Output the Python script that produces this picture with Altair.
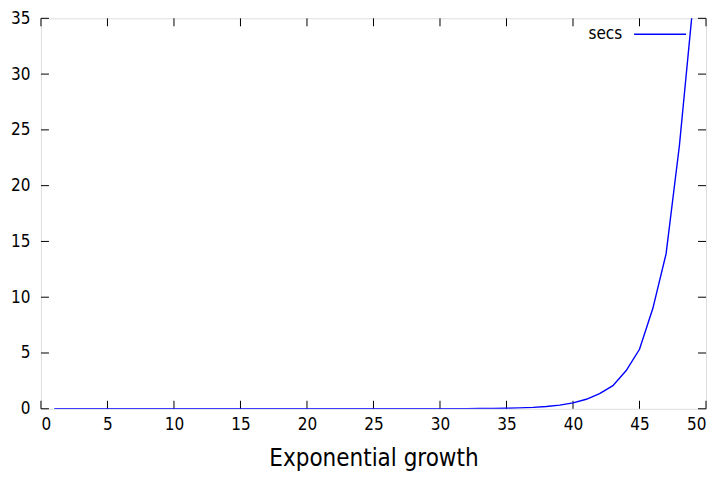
import altair as alt
import pandas as pd

n_values = list(range(1, 50))
secs = [0.0, 0.0, 0.0, 0.0, 0.0, 0.0, 0.0, 0.0, 0.0, 0.0,
        0.0, 0.0, 0.0, 0.0, 0.0, 0.0, 0.0, 0.0, 0.0, 0.0,
        0.0, 0.0, 0.0001, 0.0002, 0.0003, 0.0005, 0.0008, 0.0013, 0.0022, 0.0036,
        0.0065, 0.011, 0.018, 0.029, 0.047, 0.077, 0.125, 0.2, 0.33, 0.53,
        0.85, 1.36, 2.07, 3.43, 5.33, 8.98, 13.9, 23.6, 36.0]
x_ticks = [0, 5, 10, 15, 20, 25, 30, 35, 40, 45, 50]
y_ticks = [0, 5, 10, 15, 20, 25, 30, 35]
series_name = "secs"
title_text = "Exponential growth"

W, H = 666, 391
FONT = "DejaVu Sans Condensed, DejaVu Sans"
BLUE = "#0000ff"

df = pd.DataFrame({"n": n_values, "secs": secs})
xt = pd.DataFrame({"v": x_ticks})
yt = pd.DataFrame({"v": y_ticks})

xscale = alt.Scale(domain=[0, 50], nice=False, zero=False)
yscale = alt.Scale(domain=[0, 35], nice=False, zero=False)

line = alt.Chart(df).mark_line(color=BLUE, strokeWidth=1.4, clip=True).encode(
    x=alt.X("n:Q", scale=xscale,
            axis=alt.Axis(values=x_ticks, ticks=False, grid=False, domain=False,
                          labelFont=FONT, labelFontSize=17, labelColor="black",
                          labelPadding=8, title=title_text, titleFont=FONT,
                          titleFontSize=24, titleFontWeight="normal",
                          titleColor="black", titlePadding=14)),
    y=alt.Y("secs:Q", scale=yscale,
            axis=alt.Axis(values=y_ticks, ticks=False, grid=False, domain=False,
                          labelFont=FONT, labelFontSize=17, labelColor="black",
                          labelPadding=11, title=None)),
)

tick_len = 8
bottom_ticks = alt.Chart(xt).mark_rule(color="black", strokeWidth=1).encode(
    x=alt.X("v:Q", scale=xscale), y=alt.value(H), y2=alt.value(H - tick_len))
top_ticks = alt.Chart(xt).mark_rule(color="black", strokeWidth=1).encode(
    x=alt.X("v:Q", scale=xscale), y=alt.value(0), y2=alt.value(tick_len))
left_ticks = alt.Chart(yt).mark_rule(color="black", strokeWidth=1).encode(
    y=alt.Y("v:Q", scale=yscale), x=alt.value(0), x2=alt.value(tick_len))
right_ticks = alt.Chart(yt).mark_rule(color="black", strokeWidth=1).encode(
    y=alt.Y("v:Q", scale=yscale), x=alt.value(W), x2=alt.value(W - tick_len))

legend_df = pd.DataFrame({"label": [series_name]})
legend_text = alt.Chart(legend_df).mark_text(
    font=FONT, fontSize=17, align="right", baseline="middle", color="black"
).encode(text="label:N", x=alt.value(582), y=alt.value(16))
legend_line = alt.Chart(legend_df).mark_rule(color=BLUE, strokeWidth=1.4).encode(
    x=alt.value(594), x2=alt.value(646), y=alt.value(16))

chart = alt.layer(
    bottom_ticks, top_ticks, left_ticks, right_ticks, line, legend_text, legend_line
).properties(
    width=W, height=H,
    autosize=alt.AutoSizeParams(type="none"),
    padding={"left": 33, "top": 10, "right": 8, "bottom": 70},
).configure_view(stroke="black", strokeWidth=1.2).configure(background="white")

chart.save("out.html", embed_options={"renderer": "svg", "actions": False})
